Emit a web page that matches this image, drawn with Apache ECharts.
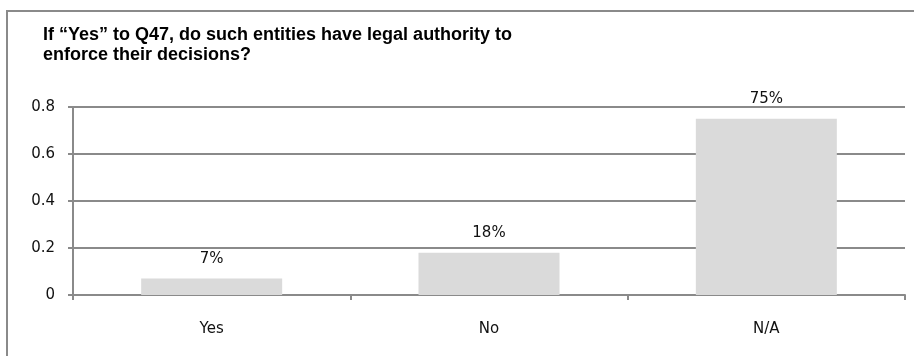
<!DOCTYPE html>
<html>
<head>
<meta charset="utf-8">
<script src="https://cdn.jsdelivr.net/npm/echarts@6/dist/echarts.min.js"></script>
<style>
  html, body { margin: 0; padding: 0; background: #fff; }
  #chart { width: 914px; height: 356px; }
</style>
</head>
<body>
<div id="chart"></div>
<script>
// Survey responses for the follow-up question
const categories = ['Yes', 'No', 'N/A'];
const shares = [0.07, 0.18, 0.75];
const yTicks = [0, 0.2, 0.4, 0.6, 0.8];
const titleText = 'If \u201cYes\u201d to Q47, do such entities have legal authority to\nenforce their decisions?';

const chart = echarts.init(document.getElementById('chart'), null, { renderer: 'canvas' });
const axisGray = '#8a8a8a';
const labelFont = '"DejaVu Sans", sans-serif';

chart.setOption({
  animation: false,
  backgroundColor: '#fff',
  title: {
    text: titleText,
    left: 38,
    top: 20,
    textStyle: {
      fontFamily: '"Liberation Sans", Arial, sans-serif',
      fontWeight: 'bold',
      fontSize: 18,
      lineHeight: 20,
      color: '#000'
    }
  },
  graphic: [{
    type: 'rect',
    shape: { x: 7, y: 11, width: 940, height: 380 },
    style: { fill: 'none', stroke: axisGray, lineWidth: 2 },
    silent: true,
    z: 100
  }],
  grid: { left: 73, right: 9, top: 107, bottom: 61 },
  xAxis: {
    type: 'category',
    data: categories,
    axisLine: { show: true, lineStyle: { color: axisGray, width: 2 } },
    axisTick: { show: true, alignWithLabel: false, length: 5, lineStyle: { color: axisGray, width: 2 } },
    axisLabel: { color: '#111', fontSize: 15, fontFamily: labelFont, margin: 27 }
  },
  yAxis: {
    type: 'value',
    min: 0,
    max: 0.8,
    interval: 0.2,
    axisLine: { show: true, lineStyle: { color: axisGray, width: 2 } },
    axisTick: { show: true, length: 5, lineStyle: { color: axisGray, width: 2 } },
    splitLine: { show: true, lineStyle: { color: axisGray, width: 2 } },
    axisLabel: {
      color: '#111',
      fontSize: 15,
      fontFamily: labelFont,
      margin: 18,
      formatter: v => {
        const t = yTicks.find(k => Math.abs(k - v) < 1e-9);
        return t === 0 ? '0' : String(t);
      }
    }
  },
  series: [{
    type: 'bar',
    data: shares,
    barWidth: 141,
    itemStyle: { color: '#dadada' },
    label: {
      show: true,
      position: 'top',
      distance: 12,
      color: '#111',
      fontSize: 15,
      fontFamily: labelFont,
      formatter: p => Math.round(p.value * 100) + '%'
    }
  }]
});
</script>
</body>
</html>
